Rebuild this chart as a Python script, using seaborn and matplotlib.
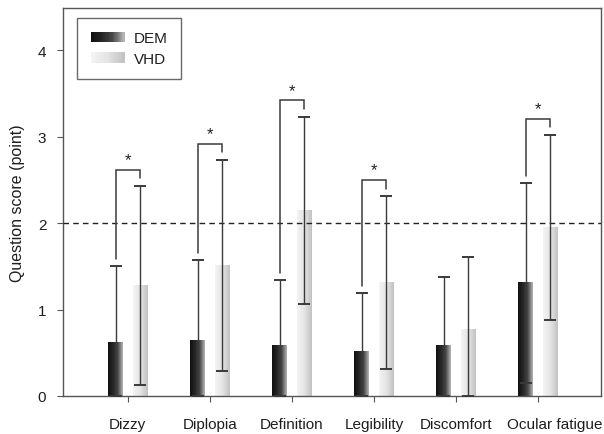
import numpy as np
import pandas as pd
import seaborn as sns
import matplotlib
matplotlib.use("Agg")
import matplotlib.pyplot as plt
import matplotlib.transforms as mtransforms
from matplotlib.colors import LinearSegmentedColormap
from matplotlib.patches import Rectangle
from matplotlib.legend_handler import HandlerBase

# ---------------- data ----------------
categories = ["Dizzy", "Diplopia", "Definition", "Legibility", "Discomfort", "Ocular fatigue"]
groups = ["DEM", "VHD"]
dem_mean = [0.62, 0.64, 0.59, 0.51, 0.59, 1.31]
dem_sd = [0.88, 0.93, 0.75, 0.68, 0.79, 1.16]
vhd_mean = [1.28, 1.51, 2.15, 1.31, 0.77, 1.95]
vhd_sd = [1.15, 1.22, 1.08, 1.00, 0.84, 1.07]
significant = [True, True, True, True, False, True]
threshold = 2.0
y_ticks = [0, 1, 2, 3, 4]
y_label = "Question score (point)"

df = pd.DataFrame({
    "category": categories * 2,
    "group": [groups[0]] * len(categories) + [groups[1]] * len(categories),
    "score": dem_mean + vhd_mean,
})

# ---------------- style ----------------
sns.set_style("ticks")
plt.rcParams["font.family"] = ["Liberation Sans", "DejaVu Sans"]
plt.rcParams["font.size"] = 11

cmap_dem = LinearSegmentedColormap.from_list("dem", ["#101010", "#262626", "#4a4a4a", "#b5b5b5"])
cmap_vhd = LinearSegmentedColormap.from_list("vhd", ["#f4f4f4", "#e4e4e4", "#c2c2c2"])
cmaps = [cmap_dem, cmap_vhd]
edge = "#555555"
txt = "#1e1e1e"

fig = plt.figure(figsize=(6.04, 4.35), dpi=100)
ax = fig.add_axes([0.1043, 0.0874, 0.891, 0.892])

sns.barplot(data=df, x="category", y="score", hue="group", order=categories,
            hue_order=groups, width=0.6, gap=0.4, errorbar=None,
            palette=["#303030", "#e0e0e0"], legend=False, ax=ax)

grad = np.linspace(0, 1, 64).reshape(1, -1)
centers = []
for gi, cont in enumerate(ax.containers):
    cx = []
    for bar in cont:
        x, y = bar.get_x(), bar.get_y()
        w, h = bar.get_width(), bar.get_height()
        bar.set_facecolor("none")
        bar.set_edgecolor("none")
        ax.imshow(grad, extent=[x, x + w, y, y + h], cmap=cmaps[gi],
                  aspect="auto", interpolation="bilinear", zorder=2)
        cx.append(x + w / 2)
    centers.append(cx)

means = [dem_mean, vhd_mean]
sds = [dem_sd, vhd_sd]
for gi in range(2):
    m = np.array(means[gi])
    s = np.array(sds[gi])
    lower = np.minimum(s, m)
    ax.errorbar(centers[gi], m, yerr=[lower, s], fmt="none", ecolor="#3a3a3a",
                elinewidth=1.0, capsize=4.5, capthick=1.4, zorder=4)

# significance brackets
for i, sig in enumerate(significant):
    if not sig:
        continue
    xl, xr = centers[0][i], centers[1][i]
    dem_top = dem_mean[i] + dem_sd[i]
    vhd_top = vhd_mean[i] + vhd_sd[i]
    top = max(dem_top, vhd_top) + 0.19
    ax.plot([xl, xl, xr, xr], [dem_top + 0.08, top, top, top - 0.1],
            color="#3a3a3a", lw=1.1, zorder=4, solid_joinstyle="miter")
    ax.text((xl + xr) / 2, top + 0.03, "*", ha="center", va="bottom",
            fontsize=12, color="#222222")

ax.axhline(threshold, color="#222222", lw=1.0, ls=(0, (4, 3)), zorder=3)

ax.set_xlim(-0.79, 5.77)
ax.set_ylim(0, 4.49)
ax.set_yticks(y_ticks)
ax.set_xlabel("")
ax.set_ylabel(y_label, fontsize=11.5, labelpad=9, color=txt)
for sp in ax.spines.values():
    sp.set_visible(True)
    sp.set_color(edge)
    sp.set_linewidth(1.0)
ax.tick_params(axis="y", direction="out", length=4, color=edge, pad=8,
               labelsize=11, labelcolor=txt)
ax.tick_params(axis="x", direction="out", length=4, color=edge, pad=11,
               labelsize=11, labelcolor=txt)

# the last category label sits slightly right of its tick, as in the source
last = ax.get_xticklabels()[-1]
last.set_transform(last.get_transform() +
                   mtransforms.ScaledTranslation(12 / 72, 0, fig.dpi_scale_trans))


# legend with gradient handles
class GradHandler(HandlerBase):
    def __init__(self, cmap):
        super().__init__()
        self.cmap = cmap

    def create_artists(self, legend, orig_handle, xdescent, ydescent, width,
                       height, fontsize, trans):
        n = 30
        arts = []
        for k in range(n):
            r = Rectangle((-xdescent + width * k / n, -ydescent), width / n + 0.3,
                          height, facecolor=self.cmap(k / (n - 1)),
                          edgecolor="none", transform=trans)
            arts.append(r)
        return arts


h_dem = Rectangle((0, 0), 1, 1)
h_vhd = Rectangle((0, 0), 1, 1)
leg = ax.legend([h_dem, h_vhd], groups, loc="upper left",
                bbox_to_anchor=(0.026, 0.975), handler_map={
                    h_dem: GradHandler(cmap_dem), h_vhd: GradHandler(cmap_vhd)},
                frameon=True, fancybox=False, edgecolor="#444444",
                handlelength=2.2, handleheight=0.7, handletextpad=0.6,
                labelspacing=0.4, borderpad=0.9, borderaxespad=0,
                fontsize=11)
leg.get_frame().set_linewidth(1.0)
for t in leg.get_texts():
    t.set_color(txt)

fig.savefig("out.png", dpi=100)
